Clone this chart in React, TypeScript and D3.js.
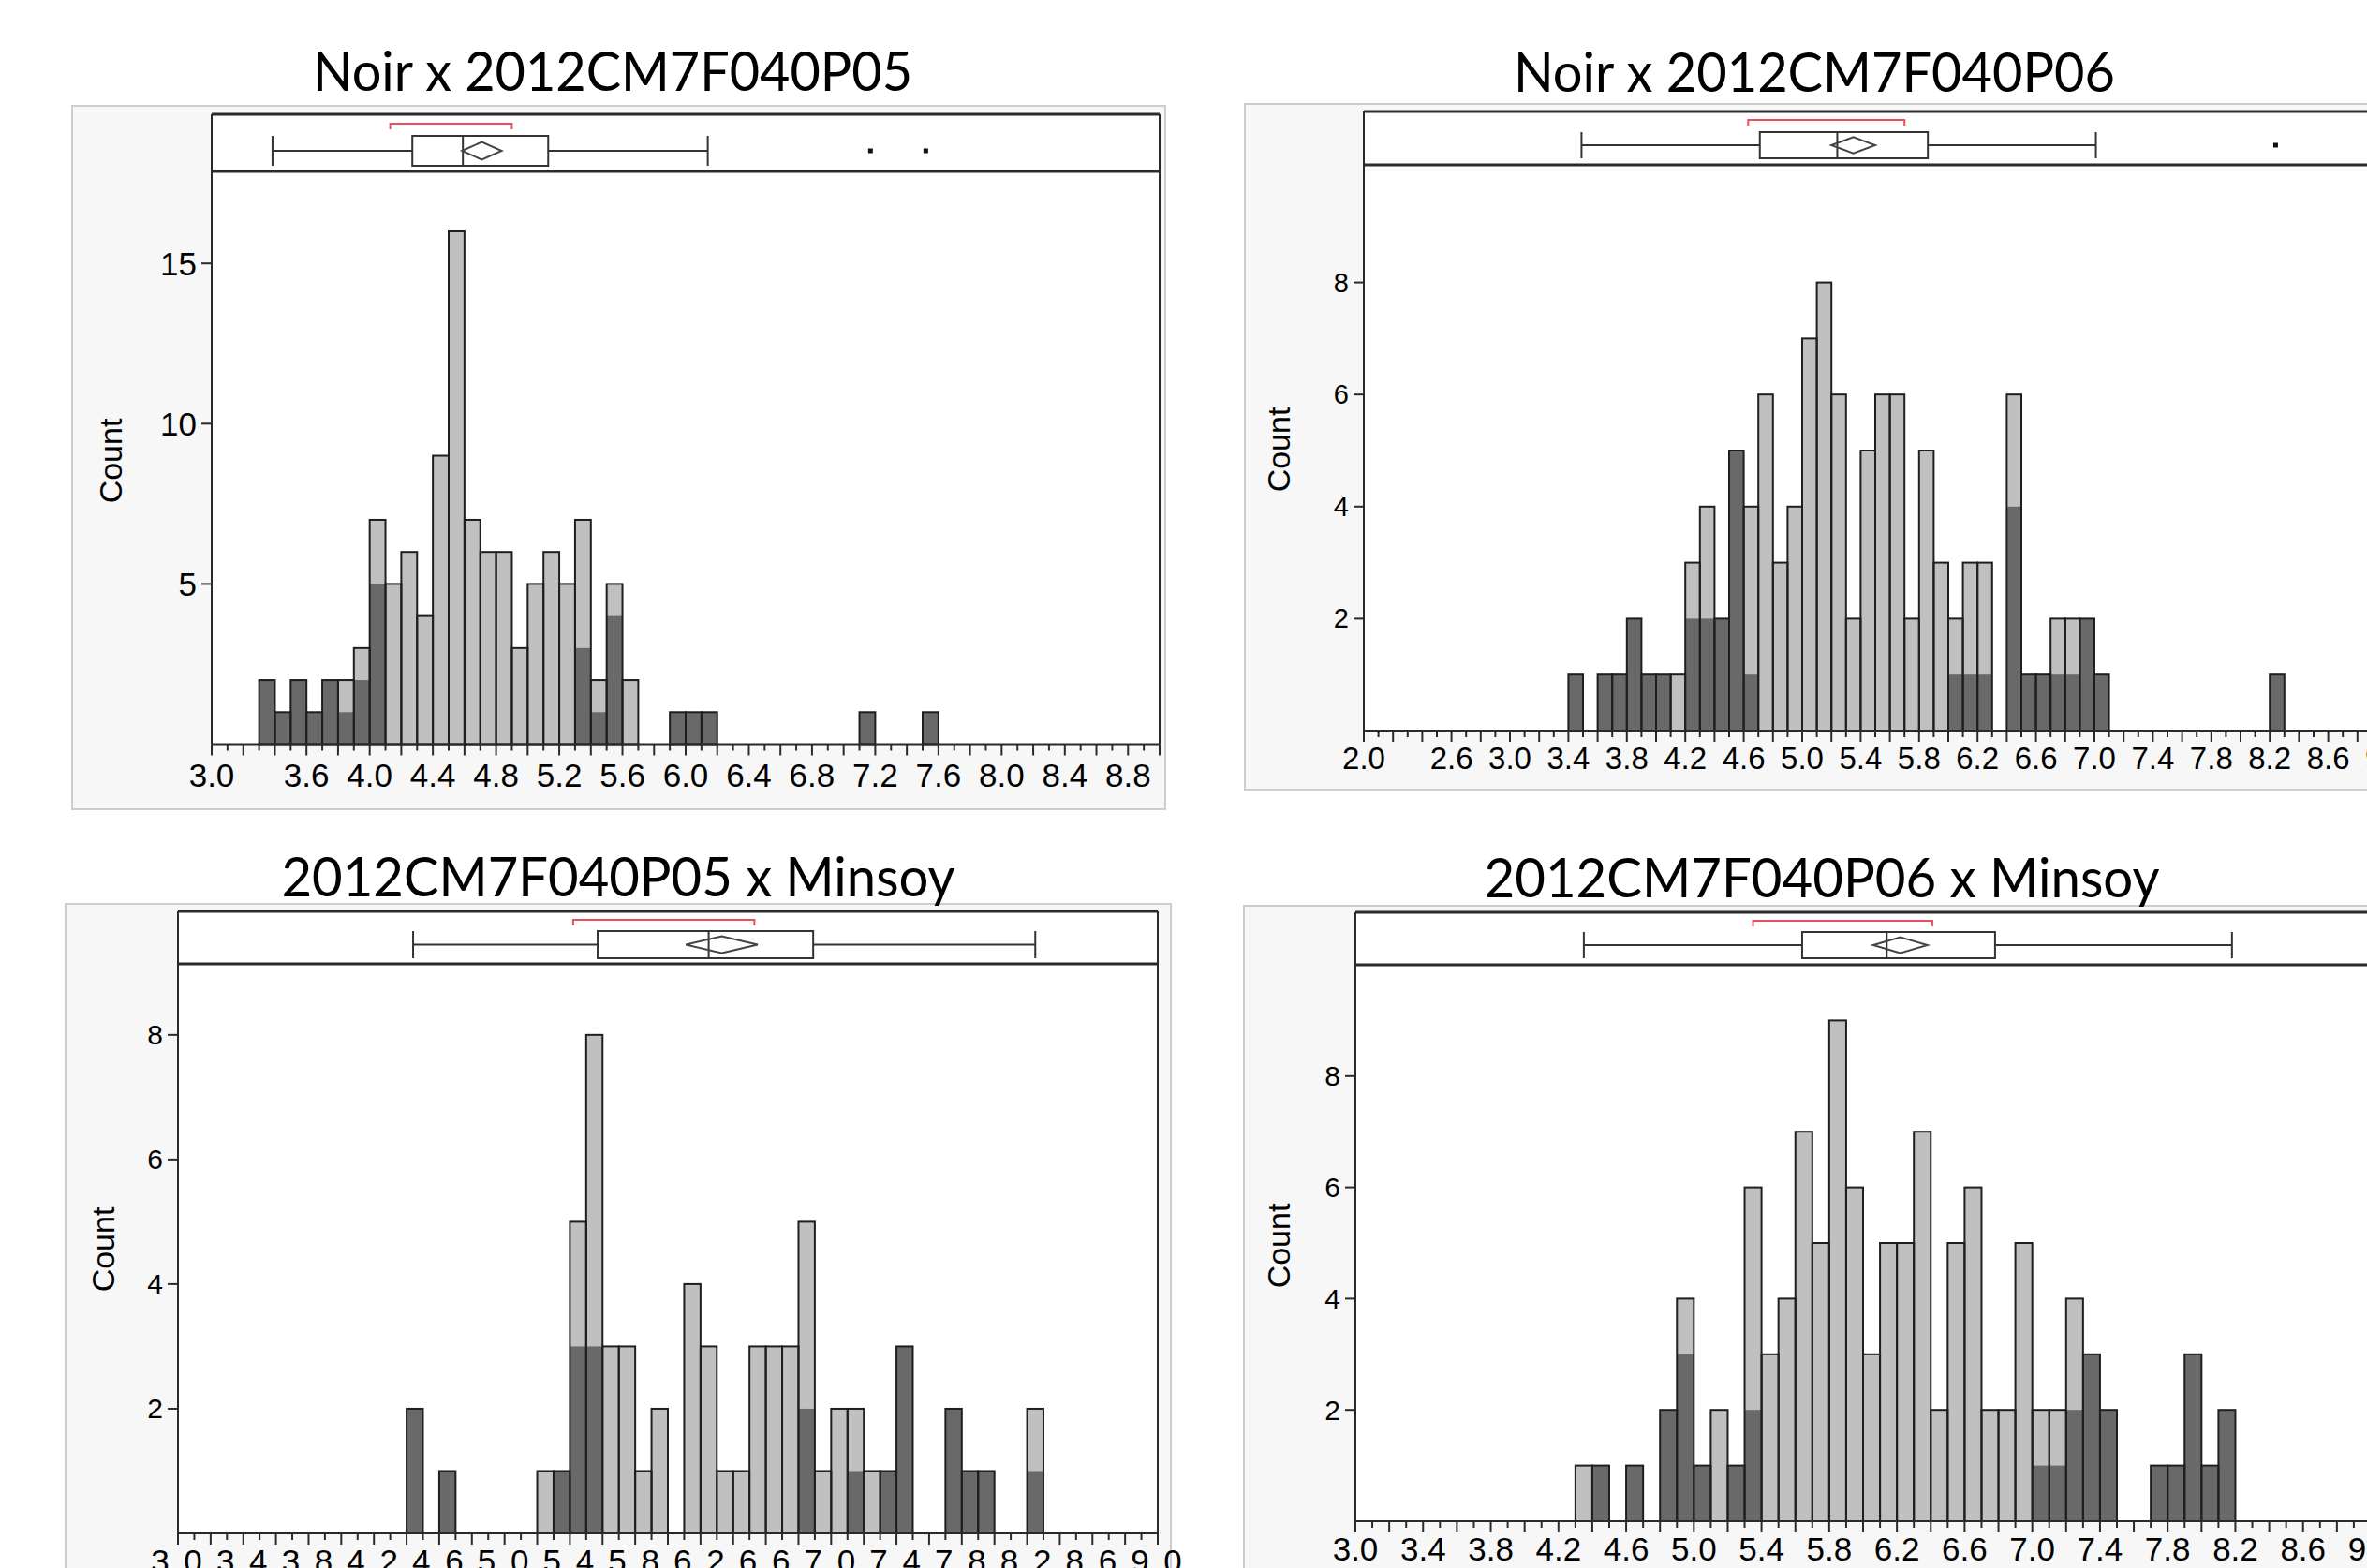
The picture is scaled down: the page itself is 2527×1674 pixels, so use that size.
import { useEffect, useRef } from 'react'
import * as d3 from 'd3'

// ---------- data (bin start, total count, dark-highlighted count) ----------
const p05Bins = [3.3, 3.4, 3.5, 3.6, 3.7, 3.8, 3.9, 4.0, 4.1, 4.2, 4.3, 4.4, 4.5, 4.6, 4.7, 4.8, 4.9, 5.0, 5.1, 5.2, 5.3, 5.4, 5.5, 5.6, 5.9, 6.0, 6.1, 7.1, 7.5]
const p05Total = [2, 1, 2, 1, 2, 2, 3, 7, 5, 6, 4, 9, 16, 7, 6, 6, 3, 5, 6, 5, 7, 2, 5, 2, 1, 1, 1, 1, 1]
const p05Dark = [2, 1, 2, 1, 2, 1, 2, 5, 0, 0, 0, 0, 0, 0, 0, 0, 0, 0, 0, 0, 3, 1, 4, 0, 1, 1, 1, 1, 1]

const p06Bins = [3.4, 3.6, 3.7, 3.8, 3.9, 4.0, 4.1, 4.2, 4.3, 4.4, 4.5, 4.6, 4.7, 4.8, 4.9, 5.0, 5.1, 5.2, 5.3, 5.4, 5.5, 5.6, 5.7, 5.8, 5.9, 6.0, 6.1, 6.2, 6.4, 6.5, 6.6, 6.7, 6.8, 6.9, 7.0, 8.2]
const p06Total = [1, 1, 1, 2, 1, 1, 1, 3, 4, 2, 5, 4, 6, 3, 4, 7, 8, 6, 2, 5, 6, 6, 2, 5, 3, 2, 3, 3, 6, 1, 1, 2, 2, 2, 1, 1]
const p06Dark = [1, 1, 1, 2, 1, 1, 0, 2, 2, 2, 5, 1, 0, 0, 0, 0, 0, 0, 0, 0, 0, 0, 0, 0, 0, 1, 1, 1, 4, 1, 1, 1, 1, 2, 1, 1]

const p05mBins = [4.4, 4.6, 5.2, 5.3, 5.4, 5.5, 5.6, 5.7, 5.8, 5.9, 6.1, 6.2, 6.3, 6.4, 6.5, 6.6, 6.7, 6.8, 6.9, 7.0, 7.1, 7.2, 7.3, 7.4, 7.7, 7.8, 7.9, 8.2]
const p05mTotal = [2, 1, 1, 1, 5, 8, 3, 3, 1, 2, 4, 3, 1, 1, 3, 3, 3, 5, 1, 2, 2, 1, 1, 3, 2, 1, 1, 2]
const p05mDark = [2, 1, 0, 1, 3, 3, 0, 0, 0, 0, 0, 0, 0, 0, 0, 0, 0, 2, 0, 0, 1, 0, 1, 3, 2, 1, 1, 1]

const p06mBins = [4.3, 4.4, 4.6, 4.8, 4.9, 5.0, 5.1, 5.2, 5.3, 5.4, 5.5, 5.6, 5.7, 5.8, 5.9, 6.0, 6.1, 6.2, 6.3, 6.4, 6.5, 6.6, 6.7, 6.8, 6.9, 7.0, 7.1, 7.2, 7.3, 7.4, 7.7, 7.8, 7.9, 8.0, 8.1]
const p06mTotal = [1, 1, 1, 2, 4, 1, 2, 1, 6, 3, 4, 7, 5, 9, 6, 3, 5, 5, 7, 2, 5, 6, 2, 2, 5, 2, 2, 4, 3, 2, 1, 1, 3, 1, 2]
const p06mDark = [0, 1, 1, 2, 3, 1, 0, 1, 2, 0, 0, 0, 0, 0, 0, 0, 0, 0, 0, 0, 0, 0, 0, 0, 0, 1, 1, 2, 3, 2, 1, 1, 3, 1, 2]

// box plot: whisker low, Q1, median, mean, Q3, whisker high
const p05Box = [3.385, 4.27, 4.59, 4.71, 5.13, 6.14]
const p06Box = [3.49, 4.71, 5.24, 5.35, 5.86, 7.01]
const p05mBox = [4.44, 5.57, 6.25, 6.33, 6.89, 8.25]
const p06mBox = [4.35, 5.64, 6.14, 6.22, 6.78, 8.18]
const p05Outliers = [7.17, 7.52]
const p06Outliers = [8.24]
// shortest half bracket and mean confidence half-width
const p05Bracket = [4.13, 4.9]
const p06Bracket = [4.63, 5.7]
const p05mBracket = [5.42, 6.53]
const p06mBracket = [5.35, 6.41]
const meanCI = [0.125, 0.15, 0.22, 0.16]

// tick labels
const p05XLabels = ['3.0', '3.6', '4.0', '4.4', '4.8', '5.2', '5.6', '6.0', '6.4', '6.8', '7.2', '7.6', '8.0', '8.4', '8.8']
const p06XLabels = ['2.0', '2.6', '3.0', '3.4', '3.8', '4.2', '4.6', '5.0', '5.4', '5.8', '6.2', '6.6', '7.0', '7.4', '7.8', '8.2', '8.6', '9.0']
const minsoyXLabels = ['3.0', '3.4', '3.8', '4.2', '4.6', '5.0', '5.4', '5.8', '6.2', '6.6', '7.0', '7.4', '7.8', '8.2', '8.6', '9.0']
const p05YTicks = [5, 10, 15]
const smallYTicks = [2, 4, 6, 8]

const titles = ['Noir x 2012CM7F040P05', 'Noir x 2012CM7F040P06', '2012CM7F040P05 x Minsoy', '2012CM7F040P06 x Minsoy']

const LIGHT = '#c0c0c0'
const DARK = '#696969'
const EDGE = '#1e1e1e'
const AXIS_FONT = '"Liberation Sans", Arial, sans-serif'

// layout per panel (pixels)
const layouts = [
  { outer: [77, 113, 1244, 864], left: 226, right: 1238, x0: 3, x1: 9, top: 122, sep: 183, base: 794.5, yMax: 17.87, boxTop: 145, boxBot: 177, bracketY: 132, dH: 9.5, titleX: 654, titleY: 97, titleLen: 640, countX: 118, countY: 492, labelY: 840, yFont: 35, xFont: 35, spacing: 0 },
  { outer: [1329, 111, 2560, 843], left: 1456, right: 2548, x0: 2, x1: 9, top: 119, sep: 176, base: 780, yMax: 10.1, boxTop: 141, boxBot: 169, bracketY: 128, dH: 8.8, titleX: 1937, titleY: 97.5, titleLen: 642, countX: 1365, countY: 480, labelY: 821, yFont: 29, xFont: 33, spacing: 0 },
  { outer: [70, 965, 1250, 1720], left: 190, right: 1236, x0: 3, x1: 9, top: 973, sep: 1029, base: 1637, yMax: 9.14, boxTop: 994, boxBot: 1023, bracketY: 982, dH: 9, titleX: 660, titleY: 957, titleLen: 719, countX: 110, countY: 1334, labelY: 1679, yFont: 30, xFont: 35, spacing: 3 },
  { outer: [1328, 967, 2560, 1720], left: 1447, right: 2531, x0: 3, x1: 9, top: 974, sep: 1030, base: 1624, yMax: 10.0, boxTop: 995, boxBot: 1023, bracketY: 983, dH: 8.5, titleX: 1945, titleY: 958, titleLen: 721, countX: 1365, countY: 1330, labelY: 1666, yFont: 30, xFont: 35, spacing: 0 },
]

const panelData = [
  { bins: p05Bins, total: p05Total, dark: p05Dark, box: p05Box, outliers: p05Outliers, bracket: p05Bracket, xLabels: p05XLabels, yTicks: p05YTicks },
  { bins: p06Bins, total: p06Total, dark: p06Dark, box: p06Box, outliers: p06Outliers, bracket: p06Bracket, xLabels: p06XLabels, yTicks: smallYTicks },
  { bins: p05mBins, total: p05mTotal, dark: p05mDark, box: p05mBox, outliers: [], bracket: p05mBracket, xLabels: minsoyXLabels, yTicks: smallYTicks },
  { bins: p06mBins, total: p06mTotal, dark: p06mDark, box: p06mBox, outliers: [], bracket: p06mBracket, xLabels: minsoyXLabels, yTicks: smallYTicks },
]

function drawPanel(svg, i) {
  const L = layouts[i]
  const D = panelData[i]
  const g = svg.append('g')

  const x = d3.scaleLinear().domain([L.x0, L.x1]).range([L.left, L.right])
  const y = d3.scaleLinear().domain([0, L.yMax]).range([L.base, L.sep])

  // outer gray frame
  const [ox0, oy0, ox1, oy1] = L.outer
  g.append('rect')
    .attr('x', ox0).attr('y', oy0).attr('width', ox1 - ox0).attr('height', oy1 - oy0)
    .attr('fill', '#f7f7f7').attr('stroke', '#cdcdcd').attr('stroke-width', 2)

  // white plot area
  g.append('rect')
    .attr('x', L.left).attr('y', L.top).attr('width', L.right - L.left).attr('height', L.base - L.top)
    .attr('fill', '#fff')

  // title
  svg.append('text')
    .attr('x', L.titleX).attr('y', L.titleY)
    .attr('text-anchor', 'middle')
    .attr('font-family', 'Lato, "Open Sans", sans-serif')
    .attr('font-size', 58)
    .attr('textLength', L.titleLen)
    .attr('lengthAdjust', 'spacingAndGlyphs')
    .attr('fill', '#000')
    .text(titles[i])

  // histogram bars
  const rows = D.bins.map((b, k) => ({ b, t: D.total[k], d: D.dark[k] }))
  const bars = g.append('g')
  bars.selectAll('rect.light')
    .data(rows).enter().append('rect')
    .attr('x', r => x(r.b)).attr('width', r => x(r.b + 0.1) - x(r.b))
    .attr('y', r => y(r.t)).attr('height', r => y(0) - y(r.t))
    .attr('fill', LIGHT)
  bars.selectAll('rect.dark')
    .data(rows.filter(r => r.d > 0)).enter().append('rect')
    .attr('x', r => x(r.b)).attr('width', r => x(r.b + 0.1) - x(r.b))
    .attr('y', r => y(r.d)).attr('height', r => y(0) - y(r.d))
    .attr('fill', DARK)
  bars.selectAll('rect.edge')
    .data(rows).enter().append('rect')
    .attr('x', r => x(r.b)).attr('width', r => x(r.b + 0.1) - x(r.b))
    .attr('y', r => y(r.t)).attr('height', r => y(0) - y(r.t))
    .attr('fill', 'none').attr('stroke', EDGE).attr('stroke-width', 2)

  // frame lines
  const line = (x1, y1, x2, y2, w, c = '#2a2a2a') =>
    g.append('line').attr('x1', x1).attr('y1', y1).attr('x2', x2).attr('y2', y2)
      .attr('stroke', c).attr('stroke-width', w)
  line(L.left, L.top, L.right, L.top, 3)
  line(L.left, L.sep, L.right, L.sep, 3)
  line(L.left, L.top, L.left, L.base, 2)
  line(L.right, L.top, L.right, L.base, 2)
  line(L.left, L.base, L.right, L.base, 2)

  // x ticks
  const xt = d3.range(Math.round(L.x0 * 10), Math.round(L.x1 * 10) + 1)
  xt.forEach(v => {
    const len = v % 2 === 0 ? 12 : 7
    line(x(v / 10), L.base, x(v / 10), L.base + len, 2)
  })
  g.append('g').selectAll('text')
    .data(D.xLabels).enter().append('text')
    .attr('x', s => x(+s)).attr('y', L.labelY)
    .attr('text-anchor', 'middle')
    .attr('font-family', AXIS_FONT).attr('font-size', L.xFont)
    .attr('letter-spacing', L.spacing)
    .attr('fill', '#000')
    .text(s => s)

  // y ticks
  D.yTicks.forEach(v => line(L.left - 11, y(v), L.left, y(v), 2))
  g.append('g').selectAll('text')
    .data(D.yTicks).enter().append('text')
    .attr('x', L.left - 16).attr('y', v => y(v))
    .attr('text-anchor', 'end').attr('dominant-baseline', 'central')
    .attr('font-family', AXIS_FONT).attr('font-size', L.yFont)
    .attr('fill', '#000')
    .text(v => v)

  svg.append('text')
    .attr('transform', `translate(${L.countX},${L.countY}) rotate(-90)`)
    .attr('text-anchor', 'middle').attr('dominant-baseline', 'central')
    .attr('font-family', AXIS_FONT).attr('font-size', 34)
    .attr('fill', '#000')
    .text('Count')

  // box plot
  const [wlo, q1, med, mean, q3, whi] = D.box
  const bt = L.boxTop, bb = L.boxBot, bm = (bt + bb) / 2
  line(x(wlo), bm, x(q1), bm, 2, '#333')
  line(x(q3), bm, x(whi), bm, 2, '#333')
  line(x(wlo), bt, x(wlo), bb, 2, '#333')
  line(x(whi), bt, x(whi), bb, 2, '#333')
  g.append('rect')
    .attr('x', x(q1)).attr('y', bt).attr('width', x(q3) - x(q1)).attr('height', bb - bt)
    .attr('fill', 'none').attr('stroke', '#333').attr('stroke-width', 2)
  line(x(med), bt, x(med), bb, 2, '#333')
  const ci = meanCI[i]
  g.append('path')
    .attr('d', `M${x(mean - ci)},${bm} L${x(mean)},${bm - L.dH} L${x(mean + ci)},${bm} L${x(mean)},${bm + L.dH} Z`)
    .attr('fill', 'none').attr('stroke', '#444').attr('stroke-width', 2)
  D.outliers.forEach(o => {
    g.append('rect').attr('x', x(o) - 2.5).attr('y', bm - 2.5).attr('width', 5).attr('height', 5).attr('fill', '#111')
  })
  const [k0, k1] = D.bracket
  g.append('path')
    .attr('d', `M${x(k0)},${L.bracketY + 6} V${L.bracketY} H${x(k1)} V${L.bracketY + 6}`)
    .attr('fill', 'none').attr('stroke', '#ec4f5c').attr('stroke-width', 2)
}

export default function App() {
  const ref = useRef(null)

  useEffect(() => {
    const svg = d3.select(ref.current)
    svg.selectAll('*').remove()
    for (let i = 0; i < 4; i++) drawPanel(svg, i)
  }, [])

  return (
    <svg
      ref={ref}
      width={2527}
      height={1674}
      style={{ position: 'absolute', left: 0, top: 0, background: '#fff', display: 'block' }}
    />
  )
}
